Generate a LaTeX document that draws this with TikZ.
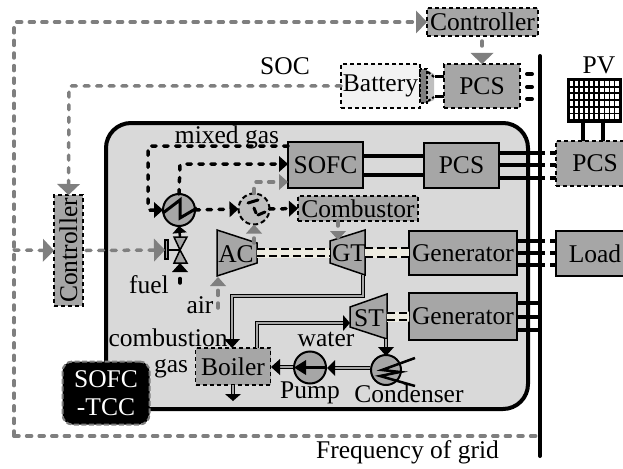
\documentclass[tikz,border=0pt]{standalone}
\usepackage{fontspec}
\setmainfont{Liberation Serif}
\usetikzlibrary{arrows.meta,calc}
\definecolor{boxg}{HTML}{A6A6A6}
\definecolor{panel}{HTML}{D9D9D9}
\definecolor{sigg}{HTML}{7F7F7F}
\definecolor{cream}{HTML}{EEECE1}
\tikzset{
  x=1pt,y=-1pt,
  every node/.style={font=\fontsize{25.5}{28}\selectfont,inner sep=0,outer sep=0},
  solidbox/.style={draw=black,line width=1.5,fill=boxg,rectangle},
  dashbox/.style={draw=black,line width=1.5,fill=boxg,rectangle,dash pattern=on 4 off 3},
  sigline/.style={draw=sigg,line width=3.5,line cap=round,dash pattern=on 5 off 7.6},
  sigarrow/.style={sigline,-{Triangle[length=11pt,width=23pt,fill=sigg,line width=0pt]}},
  sigsmall/.style={sigline,-{Triangle[length=9pt,width=16pt,fill=sigg,line width=0pt]}},
  gasline/.style={draw=black,line width=3.5,line cap=round,dash pattern=on 4.5 off 7.5},
  gasarrow/.style={gasline,-{Triangle[length=9pt,width=16pt,fill=black,line width=0pt]}},
  bus/.style={draw=black,line width=4},
  pipe/.style={draw=black,line width=1,double=boxg,double distance=1.2},
  tip/.style={fill=black,draw=none},
  shaftbg/.style={draw=cream,line width=10},
  shaft/.style={draw=black,line width=2.5,dash pattern=on 8 off 4},
  turb/.style={draw=black,line width=1.5,fill=boxg},
}
\begin{document}
\begin{tikzpicture}
\useasboundingbox (0,0) rectangle (623,468);
\clip (0,0) rectangle (623,468);
% panel
\node[draw=black,line width=4,fill=panel,rounded corners=25,minimum width=422,minimum height=286] (panel) at (317,266) {};
% bus
\coordinate (bustop) at (540,56);
\coordinate (busbot) at (540,456);
% boxes
\node[dashbox,minimum width=111,minimum height=28] (ctrltop) at (482.5,22) {Controller};
\node[dashbox,minimum width=76,minimum height=44] (pcstop) at (482,86) {PCS};
\node[dashbox,fill=black!5,minimum width=79,minimum height=44] (batt) at (380.5,86) {Battery};
\node[dashbox,minimum width=29,minimum height=111] (ctrlleft) at (68.5,250.5) {\rotatebox{90}{Controller}};
\node[solidbox,minimum width=75,minimum height=46] (sofc) at (325.5,165) {SOFC};
\node[solidbox,minimum width=75,minimum height=45] (pcsmid) at (461.5,165.5) {PCS};
\node[dashbox,minimum width=78,minimum height=45] (pcspv) at (595,163.5) {PCS};
\node[dashbox,minimum width=120,minimum height=25] (comb) at (358,208.5) {Combustor};
\node[solidbox,minimum width=108,minimum height=44] (gen1) at (463,253) {Generator};
\node[solidbox,minimum width=108,minimum height=47] (gen2) at (463,316.5) {Generator};
\node[solidbox,minimum width=78,minimum height=45] (load) at (595,253.5) {Load};
\node[dashbox,minimum width=75,minimum height=37] (boiler) at (233,366.5) {Boiler};
\node[fill=black,draw=sigg,line width=2,dash pattern=on 5 off 2.5,rounded corners=10,minimum width=87,minimum height=63,text=white,align=center] (tcc) at (106,393) {\fontsize{25.5}{30}\selectfont SOFC\\-TCC};
% PV panel
\node[fill=black,minimum width=55,minimum height=45] (pv) at (594.5,100.5) {};
\foreach \i in {0,...,9}{\foreach \j in {0,...,5}{
  \fill[white] ($(pv.north west)+(3+\i*5.05,3+\j*6.7)$) rectangle +(3.2,4.8);}}
% text labels
\node (tsoc) at (285,66) {SOC};
\node (tpv) at (599,65) {PV};
\node (tmix) at (227,137) {mixed gas};
\node (tfuel) at (149,285) {fuel};
\node (tair) at (200,305) {air};
\node (tcomb) at (168,338) {combustion};
\node (tgas) at (171,369) {gas};
\node (twater) at (326,339) {water};
\node (tpump) at (310,393) {Pump};
\node (tcond) at (409,394) {Condenser};
\node (tfreq) at (407.5,452) {Frequency of grid};
% heat exchanger, mixer
\node[circle,draw=black,line width=2,fill=boxg,minimum size=32] (hx) at (179,210) {};
\draw[line width=3] (163,213) -- (180,200) -- (180,218) -- (197,208);
\node[circle,draw=black,line width=2,fill=black!25,dash pattern=on 5 off 3,minimum size=31] (mix) at (254,209) {};
\draw[line width=3,line cap=round] (248,203) -- (258,200);
\draw[line width=3,line cap=round] (254,208) -- (256,213);
\draw[line width=3,line cap=round] (258,215) -- (265,212);
% turbines
\draw[turb] (217,230) -- (257,243) -- (257,263) -- (217,276) -- cycle;
\node (ac) at (236,254) {AC};
\draw[turb] (330,241) -- (365,230) -- (365,275) -- (330,263) -- cycle;
\node (gt) at (349,253) {GT};
\draw[turb] (350,307) -- (387,294) -- (387,339) -- (350,327) -- cycle;
\node (st) at (369,318) {ST};
% valve
\draw[line width=1.5,fill=boxg] (180,250) -- (187,237) -- (174,237) -- cycle;
\draw[line width=1.5,fill=boxg] (180,250) -- (187,263) -- (174,263) -- cycle;
\draw[line width=2] (180,250) -- (168,250);
\draw[line width=1.5,fill=boxg] (165,240) rectangle (168,259);
\coordinate (valve) at (180,250);
% shafts
\draw[shaftbg] (257,253) -- (330,253);
\draw[shaft] (257,249) -- (330,249);
\draw[shaft] (257,256) -- (330,256);
\draw[shaftbg] (365,253) -- (gen1.west);
\draw[shaft] (365,248) -- (gen1.west |- 0,248);
\draw[shaft] (365,257) -- (gen1.west |- 0,257);
\draw[shaftbg] (387,317) -- (gen2.west);
\draw[shaft] (387,313) -- (gen2.west |- 0,313);
\draw[shaft] (387,320) -- (gen2.west |- 0,320);
% electric lines
\foreach \y in {156,175} \draw[bus] (sofc.east |- 0,\y) -- (pcsmid.west |- 0,\y);
\foreach \y in {153,165,178} {
  \draw[bus] (pcsmid.east |- 0,\y) -- (545,\y);
  \draw[bus] (550,\y) -- (pcspv.west |- 0,\y);}
\foreach \y in {241,253,265} {
  \draw[bus] (gen1.east |- 0,\y) -- (545,\y);
  \draw[bus] (550,\y) -- (load.west |- 0,\y);}
\foreach \y in {303,317,330} \draw[bus] (gen2.east |- 0,\y) -- (bustop |- 0,\y);
\foreach \y in {74,87,99} \draw[bus,line cap=round] (527,\y) -- (532,\y);
\draw[bus] (583,123) -- (pcspv.north -| 583,0);
\draw[bus] (603,123) -- (pcspv.north -| 603,0);
\draw[bus,line cap=round] (bustop) -- (busbot);
% battery link
\fill[black!25] (427,70) -- (434,74) -- (434,100) -- (427,103) -- cycle;
\draw[fill=sigg,line width=1.5,dash pattern=on 3 off 2] (420,69) rectangle (427,103);
\draw[line width=3] (435,77) -- (pcstop.west |- 0,77);
\draw[line width=3] (435,97) -- (pcstop.west |- 0,97);
\draw[line width=2,dash pattern=on 3 off 2] (428,72) -- (434,77);
\draw[line width=2,dash pattern=on 3 off 2] (428,101) -- (434,97);
% signal lines
\coordinate (outtl) at (14,22);
\coordinate (outbl) at (14,436);
\coordinate (socc) at (69,86);
\draw[sigarrow,rounded corners=2] (outbl) -- (outtl) -- (ctrltop.west);
\draw[sigline,rounded corners=2] (outbl) -- (busbot |- outbl);
\draw[sigarrow] (14,250) -- (ctrlleft.west);
\draw[sigarrow] (ctrlleft.east) ++(3,0) -- (165,250);
\draw[sigarrow,rounded corners=2] (batt.west) -- (socc) -- (ctrlleft.north);
\draw[sigarrow] (ctrltop.south -| pcstop.north) ++(0,5) -- (pcstop.north);
\draw[sigsmall] (comb.south -| 338,0) -- (338,240);
\draw[sigsmall,rounded corners=2] (mix.north) -- (254,182) -- (sofc.west |- 0,182);
\draw[sigsmall] (254,243) -- (mix.south);
\draw[sigsmall] (218,308) -- (218,277);
% gas lines
\draw[gasarrow,rounded corners=2] (sofc.west |- 0,146) -- (148,146) -- (148,210) -- (hx.west);
\draw[gasarrow,rounded corners=2] (hx.north) -- (180,164) -- (sofc.west |- 0,164);
\draw[gasarrow] (hx.east) -- (mix.west);
\draw[gasarrow] (mix.east) -- (comb.west);
\draw[gasarrow] (180,283) -- (180,263);
\draw[-{Triangle[length=7pt,width=14pt]},line width=2.5] (valve |- 0,237) -- (hx.south);
% steam/water pipes
\draw[pipe] (363,275) -- (363,296) -- (232,296) -- (232,342);
\draw[pipe] (257,348) -- (257,323) -- (343,323);
\draw[pipe] (386,339) -- (386,350);
\draw[pipe] (370,368) -- (330,368);
\draw[pipe] (294,367) -- (277,367);
\draw[pipe] (233,385) -- (233,396);
\fill[tip] (232,348) -- (224,339) -- (240,339) -- cycle;
\fill[tip] (350,323) -- (343,315) -- (343,331) -- cycle;
\fill[tip] (386,356) -- (378,347) -- (394,347) -- cycle;
\fill[tip] (327,368) -- (335,360) -- (335,376) -- cycle;
\fill[tip] (271,367) -- (280,359) -- (280,375) -- cycle;
\fill[tip] (233,401) -- (225,394) -- (241,394) -- cycle;
% pump
\node[circle,draw=black,line width=2,fill=boxg,minimum size=32] (pump) at (310,367.5) {};
\draw[line width=2.5] (pump.east) -- (305,367.5);
\fill[tip] (pump.west) -- (306,360) -- (306,375) -- cycle;
% condenser
\node[circle,draw=black,line width=2,fill=boxg,minimum size=30] (cond) at (386,370) {};
\draw[line width=2.5] (415,358) -- (382,370) -- (400,372) -- (380,376) -- (415,386);
\end{tikzpicture}
\end{document}
